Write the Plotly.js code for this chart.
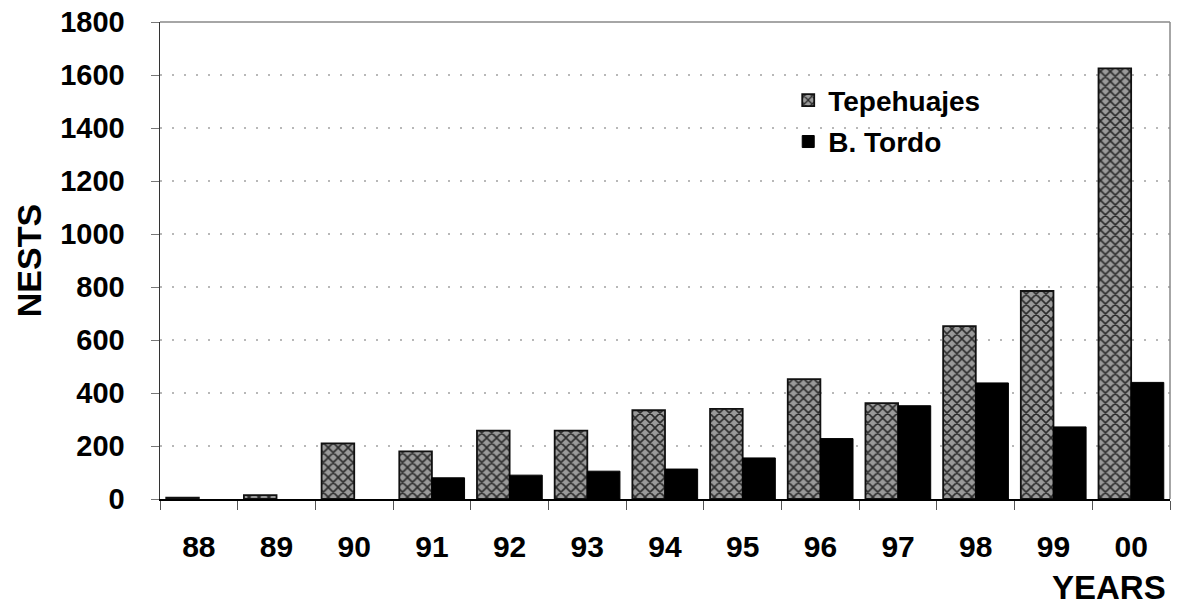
<!DOCTYPE html>
<html>
<head>
<meta charset="utf-8">
<script src="https://cdn.plot.ly/plotly-3.0.1.min.js"></script>
<style>html,body{margin:0;padding:0;background:#fff;}#chart{width:1177px;height:612px;}</style>
</head>
<body>
<div id="chart"></div>
<script>
const years = ["88","89","90","91","92","93","94","95","96","97","98","99","00"];
const tepehuajes = [5, 15, 210, 180, 258, 258, 335, 340, 452, 362, 652, 785, 1625];
const bTordo = [null, null, null, 80, 90, 105, 113, 155, 228, 352, 438, 272, 440];
const yTicks = [0, 200, 400, 600, 800, 1000, 1200, 1400, 1600, 1800];

const F = "Liberation Sans, Arial, Helvetica, sans-serif";

const traces = [
  {
    type: "bar", name: "Tepehuajes", x: years, y: tepehuajes,
    legendgroup: "a",
    marker: {
      color: "#8a8a8a",
      line: {color: "#111", width: 1.8},
      pattern: {shape: "x", fgcolor: "#2a2a2a", bgcolor: "#9a9a9a", size: 7, solidity: 0.4}
    }
  },
  {
    type: "bar", name: "B. Tordo", x: years, y: bTordo,
    legendgroup: "b",
    marker: {color: "#000", line: {color: "#000", width: 1}}
  }
];

const layout = {
  width: 1177, height: 612,
  margin: {l: 160, r: 7, t: 22, b: 113},
  paper_bgcolor: "#fff", plot_bgcolor: "#fff",
  barmode: "group", bargap: 0.16, bargroupgap: 0,
  font: {family: F, color: "#000"},
  showlegend: true,
  legend: {
    x: 0.622, y: 0.888, xanchor: "left", yanchor: "top",
    bgcolor: "rgba(0,0,0,0)", borderwidth: 0,
    font: {family: F, size: 28, weight: "bold", color: "#000"},
    traceorder: "grouped", tracegroupgap: 2,
    itemwidth: 30
  },
  xaxis: {
    type: "category", categoryorder: "array", categoryarray: years,
    showline: true, linecolor: "#000", linewidth: 2.2,
    ticks: "outside", tickson: "boundaries", ticklen: 9, tickcolor: "#555", tickwidth: 1,
    tickfont: {family: F, size: 30, weight: "bold", color: "#000"},
    ticklabelstandoff: 20,
    showgrid: false, zeroline: false, fixedrange: true
  },
  yaxis: {
    range: [0, 1800], tickvals: yTicks, ticktext: yTicks.map(String),
    showline: true, linecolor: "#333", linewidth: 1.5,
    ticks: "outside", ticklen: 8, tickcolor: "#777",
    tickfont: {family: F, size: 29, weight: "bold", color: "#000"},
    ticklabelstandoff: 20,
    showgrid: true, gridcolor: "#b8b8b8", griddash: "2px,10px", gridwidth: 1.6,
    zeroline: false, fixedrange: true
  },
  shapes: [
    {type: "line", xref: "paper", yref: "paper", x0: 0, x1: 1, y0: 1, y1: 1, line: {color: "#888", width: 1.5}},
    {type: "line", xref: "paper", yref: "paper", x0: 1, x1: 1, y0: 0, y1: 1, line: {color: "#888", width: 1.5}}
  ],
  annotations: [
    {text: "NESTS", xref: "paper", yref: "paper", x: -0.13, y: 0.5, textangle: -90,
     showarrow: false, xanchor: "center", yanchor: "middle",
     font: {family: F, size: 34, weight: "bold", color: "#000"}},
    {text: "YEARS", xref: "paper", yref: "paper", x: 0.998, y: -0.142, showarrow: false,
     xanchor: "right", yanchor: "top",
     font: {family: F, size: 33, weight: "bold", color: "#000"}}
  ]
};

Plotly.newPlot("chart", traces, layout, {displayModeBar: false, staticPlot: true});
</script>
</body>
</html>
